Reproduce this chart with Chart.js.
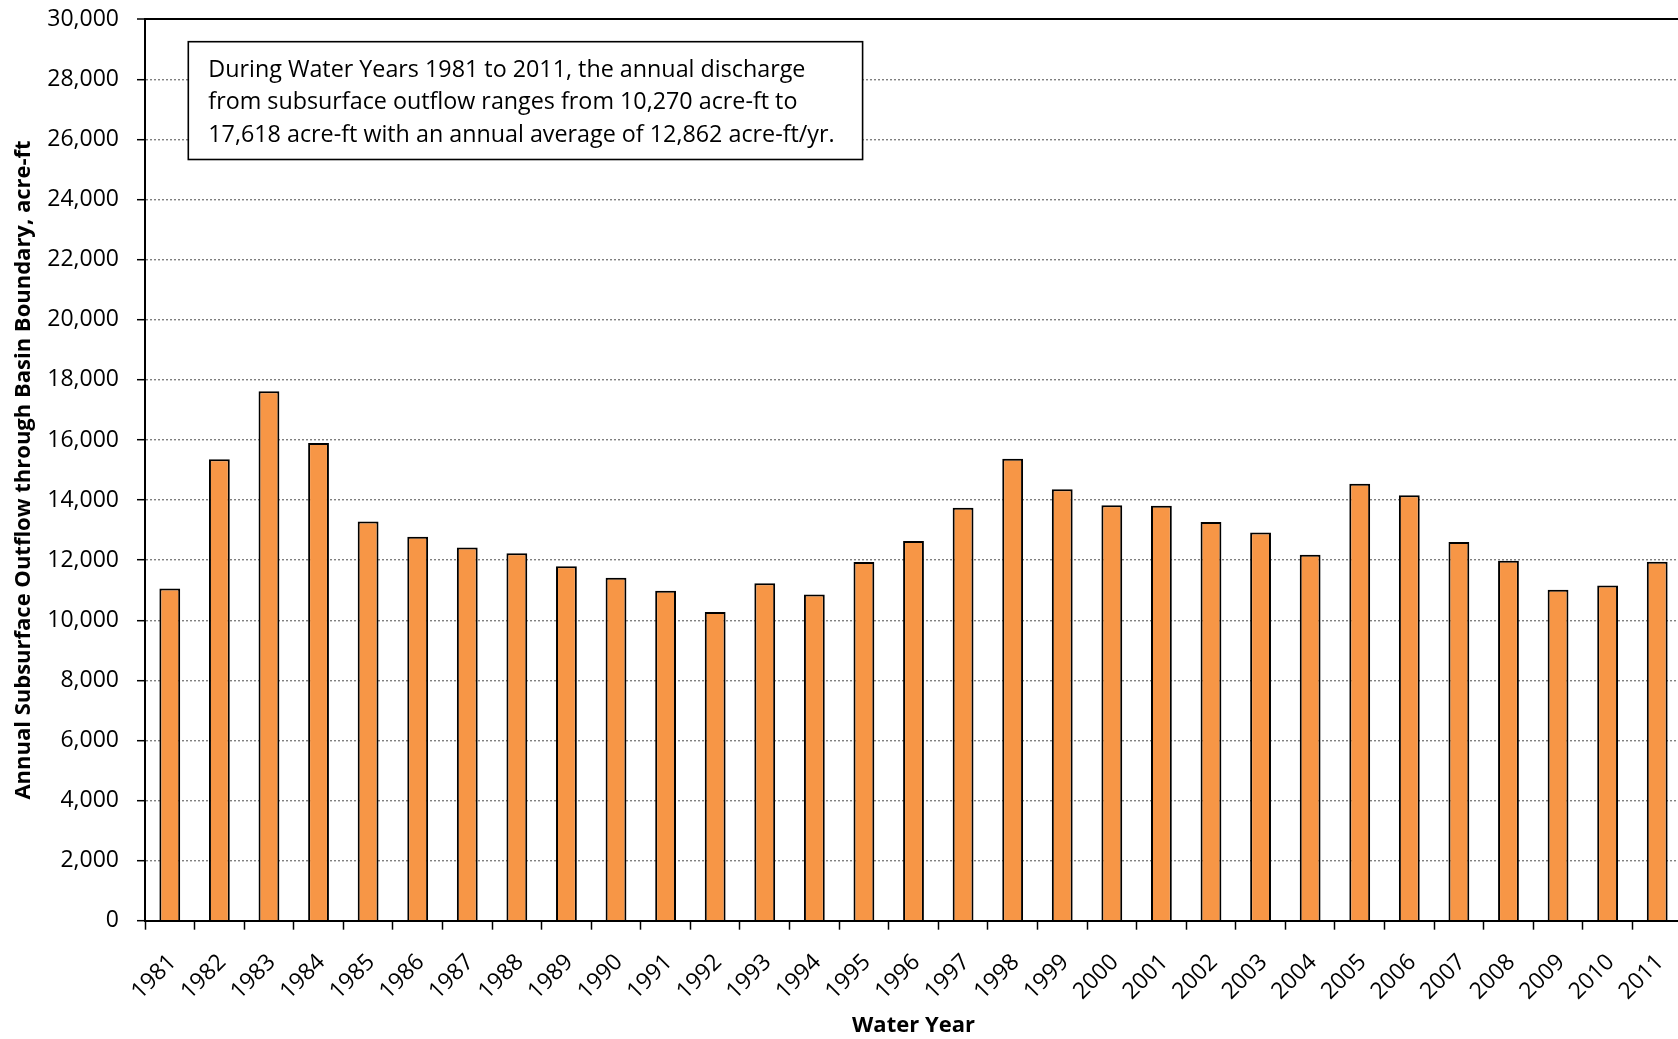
<!DOCTYPE html>
<html>
<head>
<meta charset="utf-8">
<script src="https://cdn.jsdelivr.net/npm/chart.js@4/dist/chart.umd.min.js"></script>
<style>
  html, body { margin: 0; padding: 0; background: #fff; overflow: hidden; }
  #wrap { width: 1690px; height: 1039px; }
</style>
</head>
<body>
<div id="wrap"><canvas id="c" width="1690" height="1039"></canvas></div>
<script>
const years = ['1981','1982','1983','1984','1985','1986','1987','1988','1989','1990',
  '1991','1992','1993','1994','1995','1996','1997','1998','1999','2000',
  '2001','2002','2003','2004','2005','2006','2007','2008','2009','2010','2011'];
const outflow = [11056, 15356, 17618, 15900, 13289, 12778, 12422, 12233, 11800, 11412,
  10978, 10270, 11234, 10856, 11934, 12634, 13745, 15378, 14356, 13823,
  13811, 13267, 12922, 12178, 14545, 14156, 12600, 11978, 11012, 11156, 11945];
const yMin = 0, yMax = 30000, yStep = 2000;
const yTitle = 'Annual Subsurface Outflow through Basin Boundary, acre-ft';
const xTitle = 'Water Year';
const noteLines = [
  'During Water Years 1981 to 2011, the annual discharge',
  'from subsurface outflow ranges from 10,270 acre-ft to',
  '17,618 acre-ft with an annual average of 12,862 acre-ft/yr.'
];

const FONT = "'Open Sans', 'DejaVu Sans', sans-serif";

const notePlugin = {
  id: 'note',
  afterDatasetsDraw(chart) {
    const ctx = chart.ctx;
    const a = chart.chartArea;
    const bx = a.left + 43.3, by = a.top + 22.4, bw = 674.3, bh = 117.8;
    ctx.save();
    ctx.fillStyle = '#ffffff';
    ctx.fillRect(bx, by, bw, bh);
    ctx.strokeStyle = '#000000';
    ctx.lineWidth = 1.6;
    ctx.strokeRect(bx, by, bw, bh);
    ctx.fillStyle = '#000000';
    ctx.font = '23.3px ' + FONT;
    ctx.textBaseline = 'alphabetic';
    ctx.textAlign = 'left';
    noteLines.forEach((t, i) => ctx.fillText(t, bx + 20, by + 35.5 + i * 32.2));
    ctx.restore();
  }
};

new Chart(document.getElementById('c'), {
  type: 'bar',
  data: {
    labels: years,
    datasets: [{
      data: outflow,
      backgroundColor: '#F79646',
      borderColor: '#000000',
      borderWidth: 2,
      borderSkipped: 'start',
      barPercentage: 0.42,
      categoryPercentage: 1.0
    }]
  },
  options: {
    responsive: false,
    animation: false,
    devicePixelRatio: 1,
    layout: { padding: { top: 19.3, right: 8, bottom: 0, left: 0 } },
    plugins: { legend: { display: false }, tooltip: { enabled: false }, title: { display: false } },
    scales: {
      x: {
        afterFit(s) { s.height = 118.3; s.paddingLeft = 0; s.paddingRight = 0; },
        grid: {
          display: true,
          drawOnChartArea: false,
          drawTicks: true,
          tickLength: 9,
          tickColor: '#000000',
          tickWidth: 1.5,
          offset: true
        },
        border: { display: true, color: '#000000', width: 2 },
        ticks: {
          autoSkip: false,
          maxRotation: 45,
          minRotation: 45,
          padding: 19,
          labelOffset: 3,
          color: '#000000',
          font: { family: FONT, size: 23 }
        },
        title: {
          display: true,
          text: xTitle,
          color: '#000000',
          font: { family: FONT, size: 22, weight: 'bold' },
          padding: { top: 0, bottom: 0 }
        }
      },
      y: {
        min: yMin,
        max: yMax,
        afterFit(s) { s.width = 145; s.paddingTop = 0; s.paddingBottom = 0; },
        grid: {
          display: true,
          drawOnChartArea: true,
          drawTicks: true,
          tickLength: 8,
          tickColor: '#000000',
          tickWidth: 1.5,
          color: (c) => (c.tick && c.tick.value === yMax) ? '#000000' : '#808080',
          lineWidth: (c) => (c.tick && c.tick.value === yMax) ? 2 : 1.4
        },
        border: {
          display: true,
          color: '#000000',
          width: 2,
          dash: (c) => (c.tick && c.tick.value === yMax) ? [] : [2, 2]
        },
        ticks: {
          stepSize: yStep,
          padding: 18,
          color: '#000000',
          font: { family: FONT, size: 23 },
          callback: (v) => Number(v).toLocaleString('en-US')
        },
        title: {
          display: true,
          text: yTitle,
          color: '#000000',
          font: { family: FONT, size: 22, weight: 'bold' },
          padding: { top: 11, bottom: 0 }
        }
      }
    }
  },
  plugins: [notePlugin]
});
</script>
</body>
</html>
